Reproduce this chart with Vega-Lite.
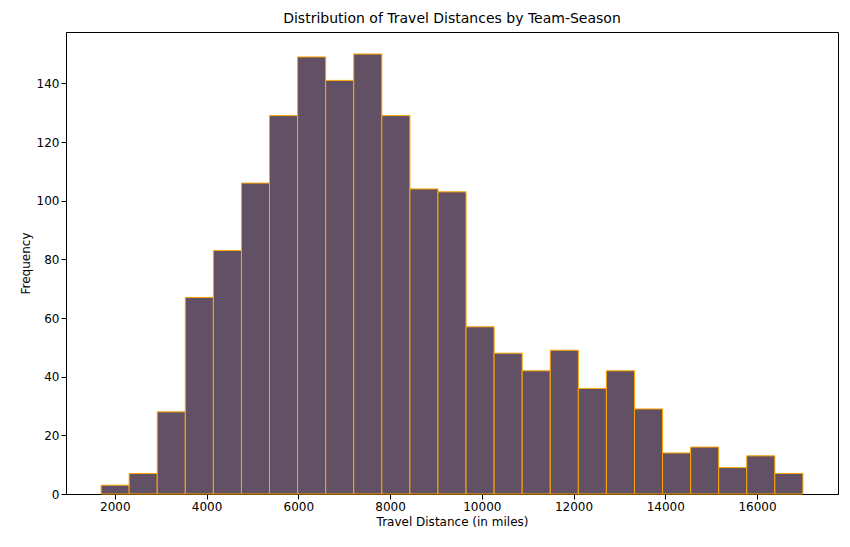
{
  "$schema": "https://vega.github.io/schema/vega-lite/v6.json",
  "width": 772,
  "height": 462,
  "autosize": "none",
  "padding": {"left": 66, "top": 32, "right": 12, "bottom": 53},
  "title": {"text": "Distribution of Travel Distances by Team-Season", "font": "DejaVu Sans", "fontSize": 14, "fontWeight": "normal", "offset": 6},
  "config": {
    "view": {"stroke": "black"},
    "axis": {"grid": false, "labelFont": "DejaVu Sans", "titleFont": "DejaVu Sans", "labelFontSize": 12, "titleFontSize": 12, "titleFontWeight": "normal", "domainColor": "black", "tickColor": "black", "labelColor": "black"}
  },
  "data": {
    "values": [
      {"start": 1700, "end": 2312, "count": 3},
      {"start": 2312, "end": 2924, "count": 7},
      {"start": 2924, "end": 3536, "count": 28},
      {"start": 3536, "end": 4148, "count": 67},
      {"start": 4148, "end": 4760, "count": 83},
      {"start": 4760, "end": 5372, "count": 106},
      {"start": 5372, "end": 5984, "count": 129},
      {"start": 5984, "end": 6596, "count": 149},
      {"start": 6596, "end": 7208, "count": 141},
      {"start": 7208, "end": 7820, "count": 150},
      {"start": 7820, "end": 8432, "count": 129},
      {"start": 8432, "end": 9044, "count": 104},
      {"start": 9044, "end": 9656, "count": 103},
      {"start": 9656, "end": 10268, "count": 57},
      {"start": 10268, "end": 10880, "count": 48},
      {"start": 10880, "end": 11492, "count": 42},
      {"start": 11492, "end": 12104, "count": 49},
      {"start": 12104, "end": 12716, "count": 36},
      {"start": 12716, "end": 13328, "count": 42},
      {"start": 13328, "end": 13940, "count": 29},
      {"start": 13940, "end": 14552, "count": 14},
      {"start": 14552, "end": 15164, "count": 16},
      {"start": 15164, "end": 15776, "count": 9},
      {"start": 15776, "end": 16388, "count": 13},
      {"start": 16388, "end": 17000, "count": 7}
    ]
  },
  "mark": {"type": "rect", "fill": "#625065", "stroke": "#ffa500", "strokeWidth": 1},
  "encoding": {
    "x": {"field": "start", "type": "quantitative", "title": "Travel Distance (in miles)",
      "scale": {"domain": [935, 17765], "nice": false, "zero": false},
      "axis": {"values": [2000, 4000, 6000, 8000, 10000, 12000, 14000, 16000], "format": "d"}},
    "x2": {"field": "end"},
    "y": {"field": "count", "type": "quantitative", "title": "Frequency",
      "scale": {"domain": [0, 157.5], "nice": false},
      "axis": {"values": [0, 20, 40, 60, 80, 100, 120, 140]}},
    "y2": {"datum": 0}
  }
}
